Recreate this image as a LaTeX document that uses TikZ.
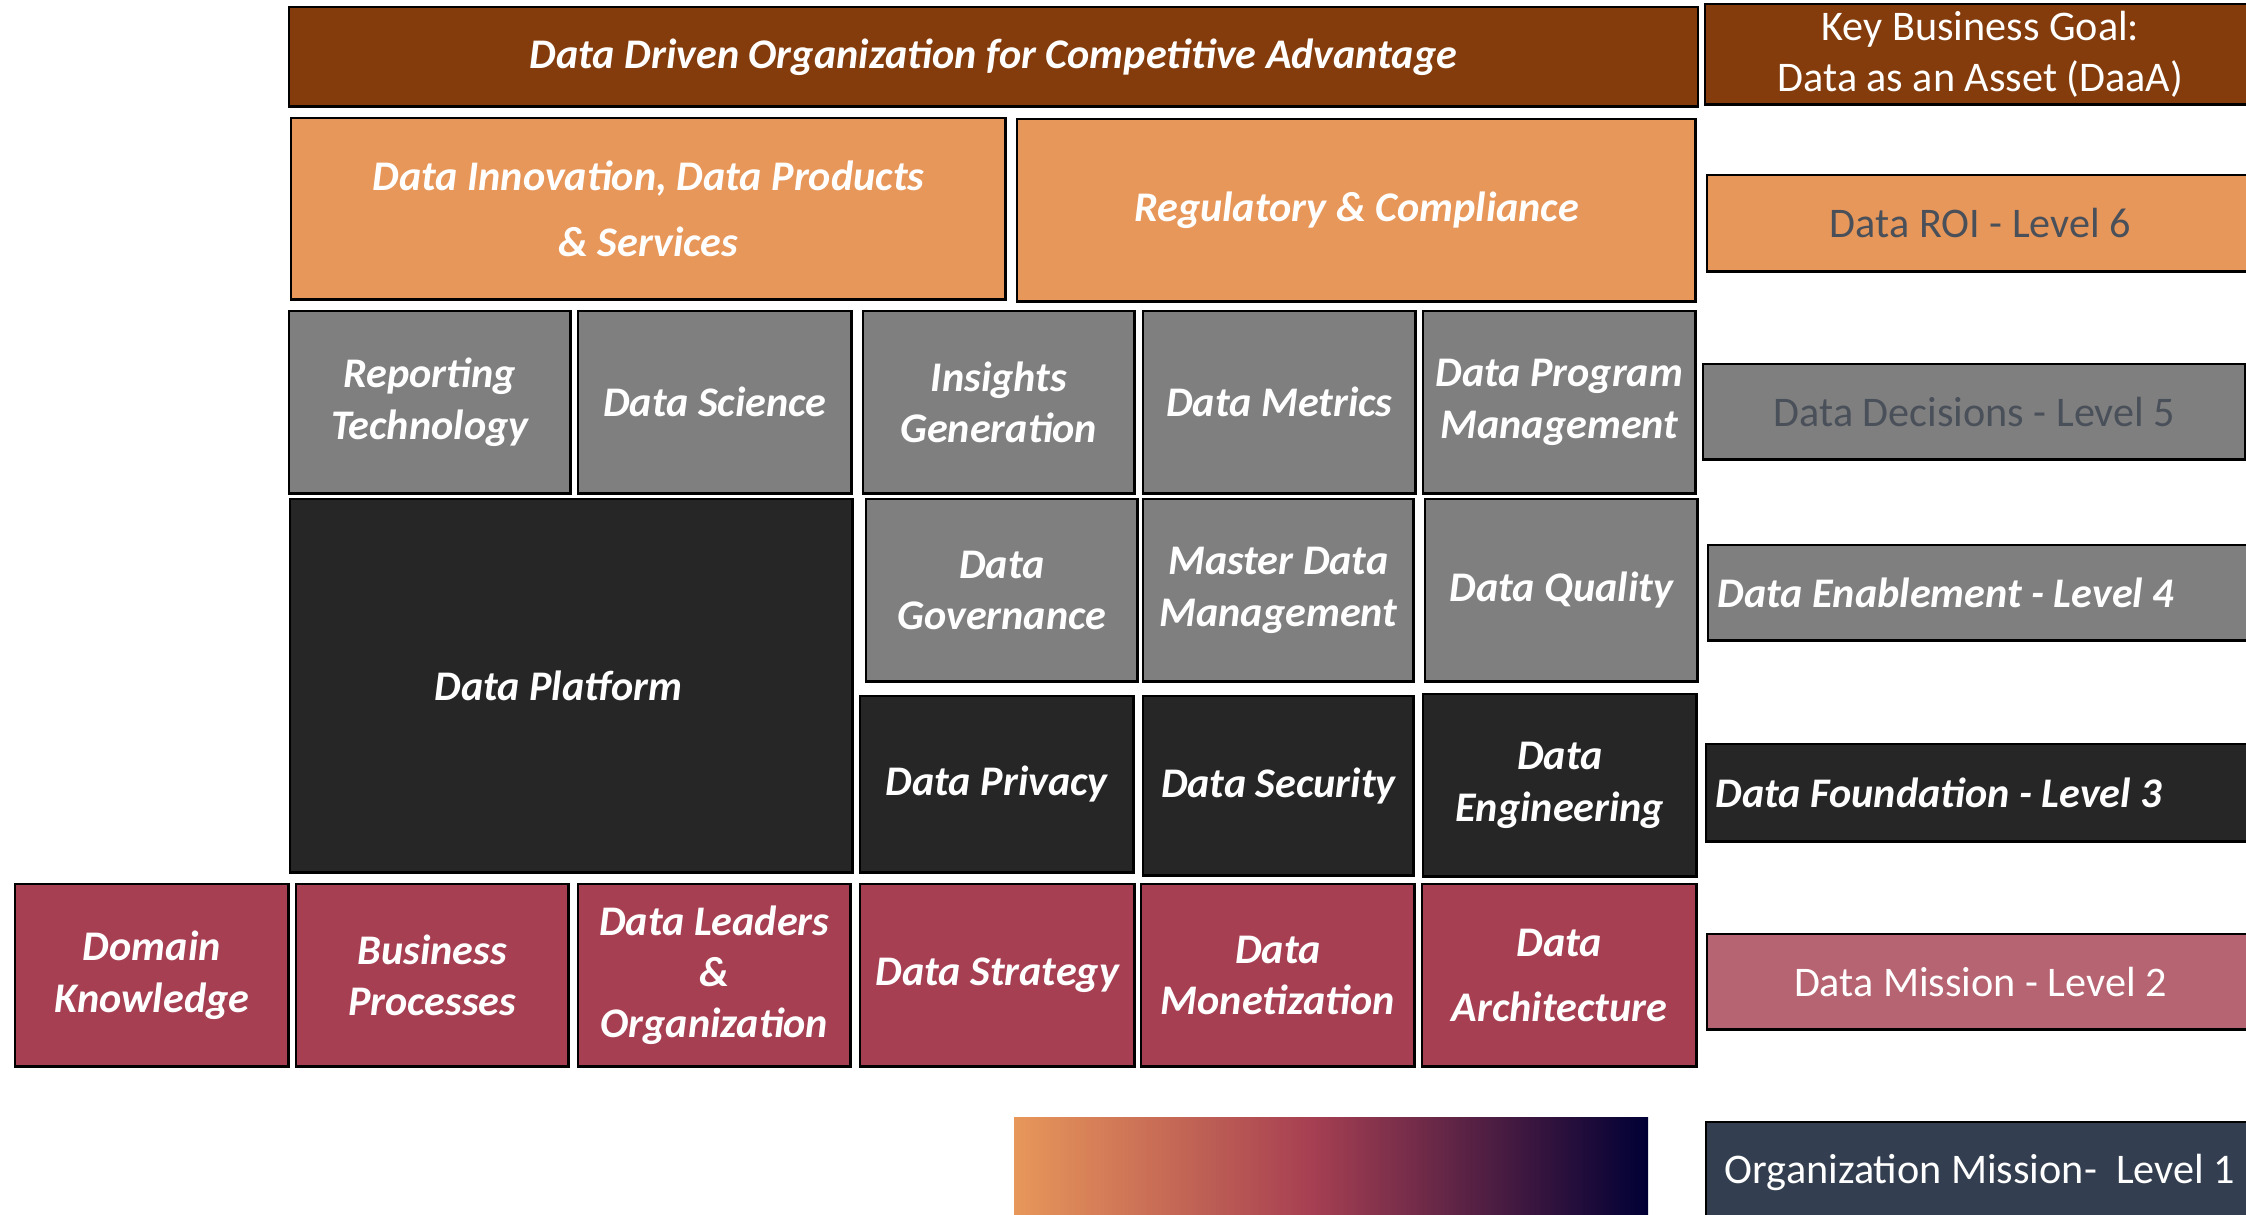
\documentclass[tikz,border=0pt]{standalone}
\usepackage{fontspec}
\setmainfont{Carlito}

\definecolor{goalbrown}{HTML}{843C0C}
\definecolor{roiorange}{HTML}{E8975A}
\definecolor{decgrey}{HTML}{7F7F7F}
\definecolor{fndblack}{HTML}{262626}
\definecolor{misred}{HTML}{A63F52}
\definecolor{misrose}{HTML}{B76472}
\definecolor{orgnavy}{HTML}{333F50}
\definecolor{deepnavy}{HTML}{000035}
\definecolor{lvltext}{HTML}{4A5059}

\pgfdeclarehorizontalshading{levelramp}{100bp}{color(0bp)=(roiorange); color(25bp)=(roiorange);
  color(48.5bp)=(misred); color(75bp)=(deepnavy); color(100bp)=(deepnavy)}

\tikzset{
  blk/.style={draw=black, line width=0.7pt, inner sep=0pt, anchor=north west,
    align=center, text=white, font=\fontsize{12}{14.6}\selectfont\bfseries\itshape},
  lvl/.style={blk, font=\fontsize{12}{14.6}\selectfont},
  lvltxt/.style={anchor=west, inner sep=0pt, text=white, font=\fontsize{12}{14.6}\selectfont\bfseries\itshape},
  wh/.style 2 args={minimum width=#1cm, minimum height=#2cm},
}

\begin{document}
\begin{tikzpicture}[x=0.01cm, y=-0.01cm]
        \useasboundingbox (0,0) rectangle (2246,1214);
        \clip (0,0) rectangle (2246,1214);

        % goal and level 6
        \node[blk, fill=goalbrown, wh={14.08}{0.99}] (driven) at (288,6) {Data Driven Organization for Competitive Advantage};
        \node[lvl, fill=goalbrown, wh={5.50}{1.00}] (goal) at (1704,3) {Key Business Goal:\\Data as an Asset (DaaA)};
        \node[blk, fill=roiorange, wh={7.14}{1.81}] (innov) at (290,117) {Data Innovation, Data Products\\[4pt]\& Services};
        \node[blk, fill=roiorange, wh={6.78}{1.82}] (reg) at (1016,118) {Regulatory \& Compliance};
        \node[lvl, fill=roiorange, text=lvltext, wh={5.46}{0.96}] (roi) at (1706,174) {Data ROI - Level 6};

        % level 5
        \node[blk, fill=decgrey, wh={2.81}{1.82}] (rep) at (288,310) {Reporting\\Technology};
        \node[blk, fill=decgrey, wh={2.73}{1.82}] (sci) at (577,310) {Data Science};
        \node[blk, fill=decgrey, wh={2.71}{1.82}] (ins) at (862,310) {Insights\\Generation};
        \node[blk, fill=decgrey, wh={2.72}{1.82}] (met) at (1142,310) {Data Metrics};
        \node[blk, fill=decgrey, wh={2.72}{1.82}] (prog) at (1422,310) {Data Program\\Management};
        \node[lvl, fill=decgrey, text=lvltext, wh={5.42}{0.95}] (dec) at (1702,363) {Data Decisions - Level 5};

        % level 4
        \node[blk, fill=fndblack, wh={5.62}{3.73}] (plat) at (289,498) {Data Platform\hspace*{0.26cm}};
        \node[blk, fill=decgrey, wh={2.71}{1.82}] (gov) at (865,498) {Data\\Governance};
        \node[blk, fill=decgrey, wh={2.70}{1.82}] (mdm) at (1142,498) {Master Data\\Management};
        \node[blk, fill=decgrey, wh={2.72}{1.82}] (qual) at (1424,498) {Data Quality};
        \node[blk, fill=decgrey, wh={5.45}{0.95}] (enab) at (1707,544) {};
        \node[lvltxt] (enabtxt) at ([xshift=0.1cm]enab.west) {Data Enablement - Level 4};

        % level 3
        \node[blk, fill=fndblack, wh={2.73}{1.76}] (priv) at (859,695) {Data Privacy};
        \node[blk, fill=fndblack, wh={2.70}{1.79}] (sec) at (1142,695) {Data Security};
        \node[blk, fill=fndblack, wh={2.73}{1.82}] (eng) at (1422,693) {Data\\Engineering};
        \node[blk, fill=fndblack, wh={5.47}{0.97}] (fnd) at (1705,743) {};
        \node[lvltxt] (fndtxt) at ([xshift=0.1cm]fnd.west) {Data Foundation - Level 3};

        % level 2
        \node[blk, fill=misred, wh={2.73}{1.82}] (dom) at (14,883) {Domain\\Knowledge};
        \node[blk, fill=misred, wh={2.72}{1.82}] (bus) at (295,883) {Business\\Processes};
        \node[blk, fill=misred, wh={2.72}{1.82}] (lead) at (577,883) {Data Leaders\\\&\\Organization};
        \node[blk, fill=misred, wh={2.74}{1.82}] (strat) at (859,883) {Data Strategy};
        \node[blk, fill=misred, wh={2.73}{1.82}] (mon) at (1140,883) {Data\\Monetization};
        \node[blk, fill=misred, wh={2.74}{1.82}] (arch) at (1421,883) {Data\\[4pt]Architecture};
        \node[lvl, fill=misrose, wh={5.46}{0.95}] (mis) at (1706,933) {Data Mission - Level 2};

        % level 1
        \shade[shading=levelramp] (1014,1117) rectangle (1648,1220);
        \node[lvl, fill=orgnavy, wh={5.47}{1.00}] (org) at (1705,1121) {Organization Mission-~ Level 1};
\end{tikzpicture}
\end{document}
